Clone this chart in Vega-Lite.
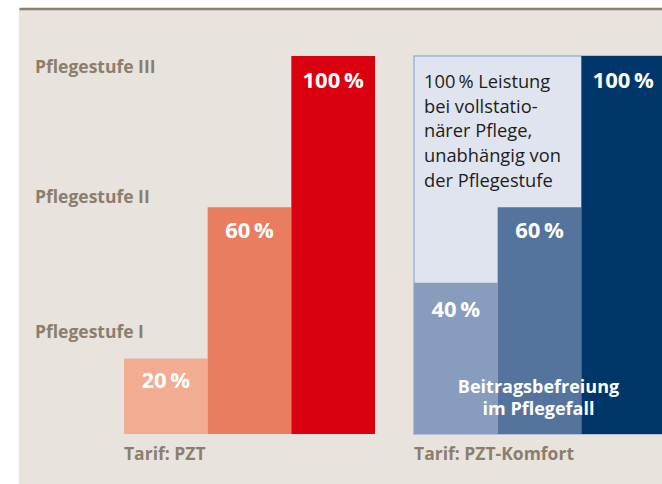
{
  "$schema": "https://vega.github.io/schema/vega-lite/v6.json",
  "width": 646,
  "height": 475.5,
  "autosize": "none",
  "padding": {"left": 19, "top": 8.5, "right": 0, "bottom": 0},
  "background": "#ffffff",
  "config": {
    "view": {"fill": "#e8e3dd", "stroke": null},
    "font": "Open Sans",
    "axisX": {"domain": true, "domainColor": "#8c8070", "domainWidth": 2.3, "labels": false, "ticks": false, "grid": false, "title": null}
  },
  "datasets": {
    "bars": [
      {"tarif": "PZT", "stufe": "I", "id": "PZT-I", "pct": 20, "label": "20\u2009%", "labelY": 12.1},
      {"tarif": "PZT", "stufe": "II", "id": "PZT-II", "pct": 60, "label": "60\u2009%", "labelY": 51.9},
      {"tarif": "PZT", "stufe": "III", "id": "PZT-III", "pct": 100, "label": "100\u2009%", "labelY": 91.6},
      {"tarif": "PZT-Komfort", "stufe": "I", "id": "K-I", "pct": 40, "label": "40\u2009%", "labelY": 31.0},
      {"tarif": "PZT-Komfort", "stufe": "II", "id": "K-II", "pct": 60, "label": "60\u2009%", "labelY": 51.9},
      {"tarif": "PZT-Komfort", "stufe": "III", "id": "K-III", "pct": 100, "label": "100\u2009%", "labelY": 91.6}
    ],
    "box": [{"tarif": "PZT-Komfort", "top": 100, "bottom": 0}],
    "stufen": [
      {"tarif": "PZT", "text": "Pflegestufe III", "y": 95.6},
      {"tarif": "PZT", "text": "Pflegestufe II", "y": 61.0},
      {"tarif": "PZT", "text": "Pflegestufe I", "y": 25.3}
    ],
    "tarife": [
      {"tarif": "PZT", "text": "Tarif: PZT", "y": -6.75},
      {"tarif": "PZT-Komfort", "text": "Tarif: PZT-Komfort", "y": -6.75}
    ],
    "note": [{"tarif": "PZT-Komfort", "text": "100\u2009% Leistung\nbei vollstatio-\nnärer Pflege,\nunabhängig von\nder Pflegestufe", "y": 91.46}],
    "befreiung": [{"tarif": "PZT-Komfort", "text": "Beitragsbefreiung\nim Pflegefall", "y": 10.93}]
  },
  "layer": [
    {
      "data": {"name": "box"},
      "mark": {"type": "rect", "fill": "#e0e4ef", "stroke": "#a3b4d4", "strokeWidth": 1.5},
      "encoding": {
        "x": {"field": "tarif", "type": "nominal", "scale": {"domain": ["PZT", "PZT-Komfort"], "paddingInner": 0.1345, "paddingOuter": 0.181, "align": 1}, "axis": {"orient": "top"}},
        "y": {"field": "top", "type": "quantitative", "scale": {"domain": [-13.23, 112.57], "nice": false, "zero": false}, "axis": null},
        "y2": {"field": "bottom"}
      }
    },
    {
      "data": {"name": "bars"},
      "mark": {"type": "bar"},
      "encoding": {
        "x": {"field": "tarif", "type": "nominal", "scale": {"domain": ["PZT", "PZT-Komfort"], "paddingInner": 0.1345, "paddingOuter": 0.181, "align": 1}, "axis": {"orient": "top"}},
        "xOffset": {"field": "stufe", "type": "nominal", "scale": {"domain": ["I", "II", "III"], "paddingInner": 0, "paddingOuter": 0}},
        "y": {"field": "pct", "type": "quantitative", "scale": {"domain": [-13.23, 112.57], "nice": false, "zero": false}, "axis": null},
        "y2": {"datum": 0},
        "color": {"field": "id", "type": "nominal", "scale": {"domain": ["PZT-I", "PZT-II", "PZT-III", "K-I", "K-II", "K-III"], "range": ["#f1ac91", "#ea7d5f", "#da000f", "#889cbd", "#54749e", "#00366a"]}, "legend": null}
      }
    },
    {
      "data": {"name": "bars"},
      "mark": {"type": "text", "fontWeight": "bold", "fontSize": 22, "color": "#ffffff", "align": "center", "baseline": "alphabetic"},
      "encoding": {
        "x": {"field": "tarif", "type": "nominal", "axis": {"orient": "top"}},
        "xOffset": {"field": "stufe", "type": "nominal"},
        "y": {"field": "labelY", "type": "quantitative", "axis": null},
        "text": {"field": "label"}
      }
    },
    {
      "data": {"name": "stufen"},
      "mark": {"type": "text", "fontWeight": "bold", "fontSize": 17.5, "color": "#8c7e6d", "align": "left", "baseline": "alphabetic", "dx": -89},
      "encoding": {
        "x": {"field": "tarif", "type": "nominal", "bandPosition": 0, "axis": {"orient": "top"}},
        "y": {"field": "y", "type": "quantitative", "axis": null},
        "text": {"field": "text"}
      }
    },
    {
      "data": {"name": "tarife"},
      "mark": {"type": "text", "fontWeight": "bold", "fontSize": 17.5, "color": "#8c7e6d", "align": "left", "baseline": "alphabetic"},
      "encoding": {
        "x": {"field": "tarif", "type": "nominal", "bandPosition": 0, "axis": {"orient": "top"}},
        "y": {"field": "y", "type": "quantitative", "axis": null},
        "text": {"field": "text"}
      }
    },
    {
      "data": {"name": "note"},
      "mark": {"type": "text", "fontSize": 18.3, "color": "#1d1d1b", "align": "left", "baseline": "alphabetic", "lineBreak": "\n", "lineHeight": 24.6, "dx": 10},
      "encoding": {
        "x": {"field": "tarif", "type": "nominal", "bandPosition": 0, "axis": {"orient": "top"}},
        "y": {"field": "y", "type": "quantitative", "axis": null},
        "text": {"field": "text"}
      }
    },
    {
      "data": {"name": "befreiung"},
      "mark": {"type": "text", "fontWeight": "bold", "fontSize": 18, "color": "#ffffff", "align": "center", "baseline": "alphabetic", "lineBreak": "\n", "lineHeight": 22.3, "dx": -1},
      "encoding": {
        "x": {"field": "tarif", "type": "nominal", "bandPosition": 0.5, "axis": {"orient": "top"}},
        "y": {"field": "y", "type": "quantitative", "axis": null},
        "text": {"field": "text"}
      }
    }
  ]
}
